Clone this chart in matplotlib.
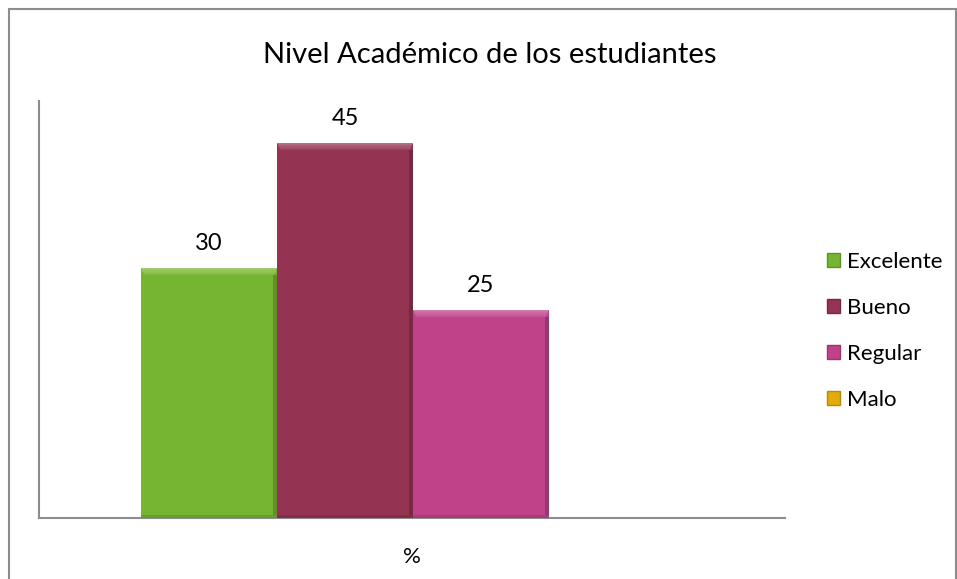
import matplotlib.pyplot as plt
from matplotlib.patches import Patch, Rectangle
import matplotlib.colors as mcolors

# --- Data ---
categories = ['Excelente', 'Bueno', 'Regular', 'Malo']
values = [30, 45, 25, 0]
colors = ['#76B531', '#943452', '#C0438A', '#E2AA0A']
title = 'Nivel Académico de los estudiantes'
xlabel = '%'

plt.rcParams['font.family'] = ['Lato', 'DejaVu Sans']

W, H = 957, 579
fig = plt.figure(figsize=(W / 100, H / 100), dpi=100)

# outer chart border
fig.patches.append(Rectangle((9 / W, -0.01), (956 - 9) / W, (H - 9) / H + 0.01,
                             transform=fig.transFigure, fill=False,
                             edgecolor='#8c8c8c', linewidth=1.5))

ax = fig.add_axes([39 / W, (H - 518) / H, (785 - 39) / W, (518 - 101) / H])
xs = list(range(len(categories)))

def shade(c, f):
    r, g, b = mcolors.to_rgb(c)
    if f > 1:
        return (r + (1 - r) * (f - 1), g + (1 - g) * (f - 1), b + (1 - b) * (f - 1))
    return (r * f, g * f, b * f)

bars = ax.bar(xs, values, width=1.0, color=colors, edgecolor='none', zorder=2)
for b, c in zip(bars, colors):
    h = b.get_height()
    if h <= 0:
        continue
    x0, w = b.get_x(), b.get_width()
    # bevel: light top band fading down, dark right/bottom edges
    steps = 6
    for i in range(steps):
        ax.add_patch(Rectangle((x0 + 0.005 * i, h - 0.15 * (i + 1)), w - 0.01 * i, 0.15,
                               color=shade(c, 1.3 - 0.045 * i), lw=0, zorder=3))
    ax.add_patch(Rectangle((x0 + w - 0.03, 0), 0.03, h - 0.9, color=shade(c, 0.8), lw=0, zorder=3))
    ax.add_patch(Rectangle((x0, 0), w, 0.4, color=shade(c, 0.88), lw=0, zorder=3))
    ax.text(b.get_x() + w / 2, h + 1.6, f'{h:g}', ha='center', va='bottom',
            fontsize=17, color='black')

ax.set_xlim(-1.25, 4.235)
ax.set_ylim(0, 50)
ax.set_xticks([])
ax.set_yticks([])
for s in ['top', 'right']:
    ax.spines[s].set_visible(False)
for s in ['left', 'bottom']:
    ax.spines[s].set_color('#8c8c8c')
    ax.spines[s].set_linewidth(1.5)

fig.text(412 / W, 1 - 557 / H, xlabel, ha='center', va='center', fontsize=16)
fig.text(490 / W, 1 - 55 / H, title, ha='center', va='center', fontsize=21)

handles = [Patch(facecolor=c, edgecolor=shade(c, 0.8)) for c in colors]
fig.legend(handles, categories, loc='upper left',
           bbox_to_anchor=(818 / W, 1 - 243 / H), frameon=False,
           fontsize=16, handlelength=0.6, handleheight=0.6,
           handletextpad=0.3, labelspacing=1.17, borderaxespad=0)

fig.savefig('out.png', dpi=100)
